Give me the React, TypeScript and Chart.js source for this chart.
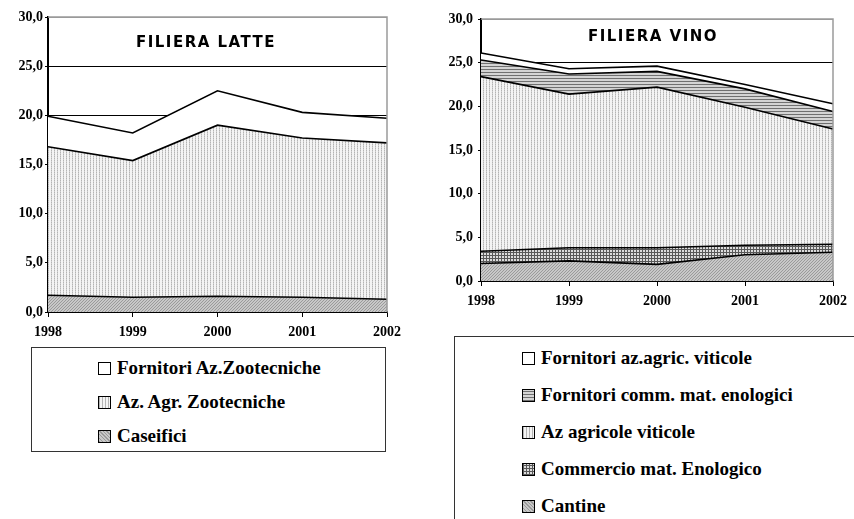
import React, { useEffect, useRef } from "react";
import { Chart, registerables } from "chart.js";

Chart.register(...registerables);

const years = ["1998", "1999", "2000", "2001", "2002"];
const yTicks = [0, 5, 10, 15, 20, 25, 30];

// FILIERA LATTE (stacked, bottom to top)
const latteCaseifici = [1.7, 1.5, 1.6, 1.5, 1.3];
const latteAzAgr = [15.1, 13.9, 17.4, 16.2, 15.9];
const latteFornitori = [3.1, 2.8, 3.5, 2.6, 2.5];

// FILIERA VINO (stacked, bottom to top)
const vinoCantine = [2.0, 2.3, 1.9, 3.0, 3.3];
const vinoCommercio = [1.4, 1.5, 1.9, 1.1, 0.9];
const vinoAzAgricole = [20.0, 17.6, 18.4, 15.8, 13.2];
const vinoFornComm = [1.9, 2.3, 1.8, 2.1, 2.0];
const vinoFornAz = [0.8, 0.6, 0.6, 0.5, 0.9];

type PatName = "white" | "vlight" | "diag" | "grid" | "horiz";

function makePattern(name: PatName): CanvasPattern | string {
  if (name === "white") return "#ffffff";
  const c = document.createElement("canvas");
  let w = 3, h = 3;
  if (name === "vlight") { w = 3; h = 2; }
  if (name === "diag") { w = 3; h = 3; }
  if (name === "grid") { w = 3; h = 3; }
  if (name === "horiz") { w = 1; h = 3; }
  c.width = w; c.height = h;
  const g = c.getContext("2d")!;
  const px = (x: number, y: number, col: string) => { g.fillStyle = col; g.fillRect(x, y, 1, 1); };
  if (name === "vlight") {
    g.fillStyle = "#f4f4f4"; g.fillRect(0, 0, w, h);
    px(0, 0, "#b4b4b4"); px(0, 1, "#d0d0d0");
  } else if (name === "diag") {
    g.fillStyle = "#c8c8c8"; g.fillRect(0, 0, w, h);
    for (let i = 0; i < 3; i++) px(i, 2 - i, "#9a9a9a");
  } else if (name === "grid") {
    g.fillStyle = "#dcdcdc"; g.fillRect(0, 0, w, h);
    g.fillStyle = "#585858"; g.fillRect(0, 0, w, 1); g.fillRect(0, 0, 1, h);
  } else if (name === "horiz") {
    g.fillStyle = "#d4d4d4"; g.fillRect(0, 0, w, h);
    px(0, 0, "#707070");
  }
  return g.createPattern(c, "repeat")!;
}

const swatchCss: Record<PatName, string> = {
  white: "#fff",
  vlight: "repeating-linear-gradient(90deg, #b4b4b4 0 1px, #f4f4f4 1px 3px)",
  diag: "repeating-linear-gradient(45deg, #9a9a9a 0 1px, #c8c8c8 1px 2.5px)",
  grid: "repeating-linear-gradient(90deg, #585858 0 1px, transparent 1px 3px), repeating-linear-gradient(0deg, #585858 0 1px, #dcdcdc 1px 3px)",
  horiz: "repeating-linear-gradient(0deg, #707070 0 1px, #d4d4d4 1px 3px)",
};

interface SeriesDef { label: string; data: number[]; pat: PatName; }

interface PanelProps {
  series: SeriesDef[];
  title: string;
  titleX: number;
  titleY: number;
  left: number;
  width: number;
  height: number;
  yWidth: number;
  xHeight: number;
  padTop: number;
  padRight: number;
  yPad: number;
  xPad: number;
}

function AreaPanel(p: PanelProps) {
  const ref = useRef<HTMLCanvasElement>(null);
  useEffect(() => {
    if (!ref.current) return;
    const datasets = p.series.map((s, i) => ({
      label: s.label,
      data: s.data,
      backgroundColor: makePattern(s.pat) as any,
      borderColor: "#000",
      borderWidth: 1.6,
      pointRadius: 0,
      tension: 0,
      fill: i === 0 ? "origin" : "-1",
    }));
    const framePlugin = {
      id: "frame",
      afterDatasetsDraw(chart: any) {
        const { ctx, chartArea } = chart;
        ctx.save();
        ctx.strokeStyle = "#9a9a9a";
        ctx.lineWidth = 1.5;
        ctx.beginPath();
        ctx.moveTo(chartArea.left, chartArea.top);
        ctx.lineTo(chartArea.right, chartArea.top);
        ctx.lineTo(chartArea.right, chartArea.bottom);
        ctx.stroke();
        ctx.restore();
      },
      afterDraw(chart: any) {
        const ctx = chart.ctx;
        ctx.save();
        ctx.font = "bold 15px 'DejaVu Sans'";
        (ctx as any).letterSpacing = "1.5px";
        ctx.fillStyle = "#000";
        ctx.textAlign = "center";
        ctx.textBaseline = "middle";
        ctx.fillText(p.title, p.titleX, p.titleY);
        ctx.restore();
      },
    };
    const chart = new Chart(ref.current, {
      type: "line",
      data: { labels: years, datasets: datasets as any },
      options: {
        animation: false,
        responsive: false,
        maintainAspectRatio: false,
        layout: { padding: { top: p.padTop, right: p.padRight, left: 0, bottom: 0 } },
        plugins: { legend: { display: false }, tooltip: { enabled: false }, title: { display: false } },
        scales: {
          x: {
            offset: false,
            grid: { drawOnChartArea: false, drawTicks: true, tickLength: 5, color: "#000", tickColor: "#000" },
            border: { color: "#000", width: 1.5 },
            ticks: {
              color: "#000",
              padding: p.xPad,
              maxRotation: 0,
              font: { family: "'Liberation Serif'", weight: "bold", size: 14 },
            },
            afterFit: (scale: any) => { scale.height = p.xHeight; },
          },
          y: {
            stacked: true,
            min: 0,
            max: 30,
            afterBuildTicks: (scale: any) => { scale.ticks = yTicks.map((v) => ({ value: v })); },
            grid: {
              z: -1,
              color: (c: any) => (c.tick && c.tick.value === 30 ? "#9a9a9a" : "#000"),
              tickColor: "#000",
              tickLength: 3,
              lineWidth: 1,
            },
            border: { color: "#000", width: 2 },
            ticks: {
              color: "#000",
              padding: p.yPad,
              font: { family: "'Liberation Serif'", weight: "bold", size: 14 },
              callback: (v: any) => Number(v).toFixed(1).replace(".", ","),
            },
            afterFit: (scale: any) => { scale.width = p.yWidth; },
          },
        },
      } as any,
      plugins: [framePlugin],
    });
    return () => chart.destroy();
  }, []);
  return (
    <div style={{ position: "absolute", left: p.left, top: 0, width: p.width, height: p.height }}>
      <canvas ref={ref} width={p.width} height={p.height} style={{ width: p.width, height: p.height, display: "block" }} />
    </div>
  );
}

interface LegendProps {
  items: SeriesDef[];
  left: number; top: number; width: number; height: number;
  swatchX: number; firstY: number; step: number;
}

function LegendBox(l: LegendProps) {
  return (
    <div style={{ position: "absolute", left: l.left, top: l.top, width: l.width, height: l.height, border: "1px solid #333", boxSizing: "border-box" }}>
      {l.items.map((it, i) => (
        <div key={it.label} style={{
          position: "absolute", left: l.swatchX, top: l.firstY + i * l.step - 12, height: 24,
          display: "flex", alignItems: "center", whiteSpace: "nowrap",
          fontFamily: "'Liberation Serif', serif", fontWeight: "bold", fontSize: 19, color: "#000",
        }}>
          <span style={{ display: "inline-block", width: 11, height: 11, border: "1px solid #000", background: swatchCss[it.pat], marginRight: 6 }} />
          <span>{it.label}</span>
        </div>
      ))}
    </div>
  );
}

export default function App() {
  const latteSeries: SeriesDef[] = [
    { label: "Caseifici", data: latteCaseifici, pat: "diag" },
    { label: "Az. Agr. Zootecniche", data: latteAzAgr, pat: "vlight" },
    { label: "Fornitori Az.Zootecniche", data: latteFornitori, pat: "white" },
  ];
  const vinoSeries: SeriesDef[] = [
    { label: "Cantine", data: vinoCantine, pat: "diag" },
    { label: "Commercio mat. Enologico", data: vinoCommercio, pat: "grid" },
    { label: "Az agricole viticole", data: vinoAzAgricole, pat: "vlight" },
    { label: "Fornitori comm. mat. enologici", data: vinoFornComm, pat: "horiz" },
    { label: "Fornitori az.agric. viticole", data: vinoFornAz, pat: "white" },
  ];
  return (
    <div style={{ position: "fixed", left: 0, top: 0, width: 854, height: 519, background: "#fff", overflow: "hidden" }}>
      <AreaPanel series={latteSeries} title="FILIERA LATTE" titleX={206} titleY={43}
        left={0} width={420} height={345} yWidth={48} xHeight={33} padTop={17} padRight={33} yPad={2} xPad={7} />
      <AreaPanel series={vinoSeries} title="FILIERA VINO" titleX={233} titleY={37}
        left={420} width={434} height={320} yWidth={61} xHeight={39} padTop={19} padRight={18} yPad={5} xPad={7} />
      <LegendBox items={[...latteSeries].reverse()} left={31} top={347} width={355} height={105}
        swatchX={66} firstY={20} step={34} />
      <LegendBox items={[...vinoSeries].reverse()} left={454} top={336} width={420} height={220}
        swatchX={67} firstY={21} step={37} />
    </div>
  );
}
